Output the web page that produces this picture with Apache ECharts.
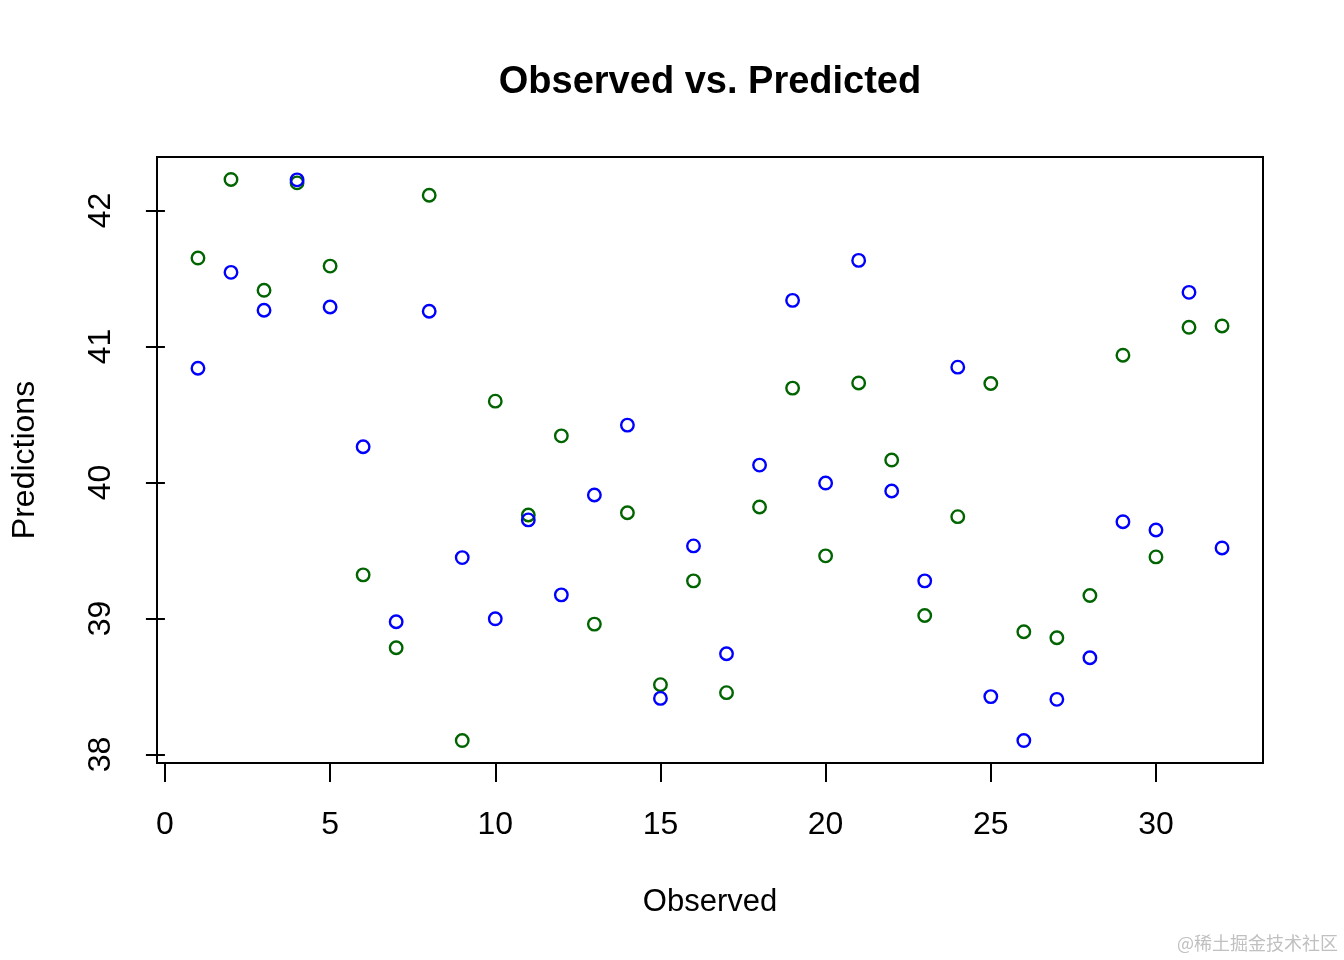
<!DOCTYPE html>
<html>
<head>
<meta charset="utf-8">
<script src="https://cdn.jsdelivr.net/npm/echarts@6/dist/echarts.min.js"></script>
<style>
  html, body { margin: 0; padding: 0; background: #ffffff; }
  #chart { width: 1344px; height: 960px; }
</style>
</head>
<body>
<div id="chart"></div>
<script>
// ---- data ----
var observed = [1,2,3,4,5,6,7,8,9,10,11,12,13,14,15,16,17,18,19,20,21,22,23,24,25,26,27,28,29,30,31,32];
var predBlue = [40.840, 41.545, 41.266, 42.225, 41.290, 40.263, 38.976, 41.259, 39.448, 38.998,
                39.725, 39.174, 39.908, 40.422, 38.413, 39.534, 38.741, 40.128, 41.339, 39.996,
                41.633, 39.938, 39.277, 40.848, 38.426, 38.103, 38.406, 38.712, 39.712, 39.651,
                41.398, 39.519];
var predGreen = [41.650, 42.228, 41.413, 42.203, 41.591, 39.321, 38.785, 42.112, 38.103, 40.598,
                 39.761, 40.343, 38.959, 39.778, 38.514, 39.277, 38.455, 39.820, 40.694, 39.461,
                 40.732, 40.165, 39.022, 39.749, 40.728, 38.903, 38.859, 39.169, 40.936, 39.453,
                 41.141, 41.151];
var xTicks = [0, 5, 10, 15, 20, 25, 30];
var yTicks = [38, 39, 40, 41, 42];
var titleText = 'Observed vs. Predicted';
var xLabel = 'Observed';
var yLabel = 'Predictions';

// R-style 4% range extension
function ext(arr) {
  var mn = Math.min.apply(null, arr), mx = Math.max.apply(null, arr);
  var d = (mx - mn) * 0.04;
  return [mn - d, mx + d];
}
var xr = ext(observed);
var yr = ext(predBlue.concat(predGreen));

function pairs(ys) { return observed.map(function (x, i) { return [x, ys[i]]; }); }

var FONT = 'Liberation Sans, Arial, Helvetica, sans-serif';
var chart = echarts.init(document.getElementById('chart'), null, { renderer: 'canvas' });

chart.setOption({
  animation: false,
  backgroundColor: '#ffffff',
  title: {
    text: titleText,
    left: 705,
    textAlign: 'center',
    top: 59,
    textStyle: { fontFamily: FONT, fontSize: 38, fontWeight: 'bold', color: '#000' }
  },
  grid: {
    left: 157, right: 81, top: 157, bottom: 197,
    show: true, borderColor: '#000', borderWidth: 2, backgroundColor: 'transparent'
  },
  xAxis: {
    type: 'value',
    min: xr[0], max: xr[1],
    name: xLabel,
    nameLocation: 'middle',
    nameGap: 124,
    nameTextStyle: { fontFamily: FONT, fontSize: 31, color: '#000' },
    axisLine: { show: false },
    splitLine: { show: false },
    axisTick: { show: true, inside: false, length: 19, customValues: xTicks,
                lineStyle: { color: '#000', width: 2 } },
    axisLabel: { show: true, customValues: xTicks, margin: 46,
                 fontFamily: FONT, fontSize: 32, color: '#000' }
  },
  yAxis: {
    type: 'value',
    min: yr[0], max: yr[1],
    name: yLabel,
    nameLocation: 'middle',
    nameGap: 116,
    nameRotate: 90,
    nameTextStyle: { fontFamily: FONT, fontSize: 32, color: '#000' },
    axisLine: { show: false },
    splitLine: { show: false },
    axisTick: { show: true, inside: false, length: 19, customValues: yTicks,
                lineStyle: { color: '#000', width: 2 } },
    axisLabel: { show: true, customValues: yTicks, rotate: 90, margin: 40,
                 fontFamily: FONT, fontSize: 32, color: '#000' }
  },
  series: [
    {
      type: 'scatter',
      data: pairs(predGreen),
      symbol: 'circle',
      symbolSize: 12.5,
      itemStyle: { color: 'rgba(0,0,0,0)', borderColor: '#006400', borderWidth: 2.4, opacity: 1 },
      z: 2
    },
    {
      type: 'scatter',
      data: pairs(predBlue),
      symbol: 'circle',
      symbolSize: 12.5,
      itemStyle: { color: 'rgba(0,0,0,0)', borderColor: '#0000ff', borderWidth: 2.4, opacity: 1 },
      z: 3
    }
  ],
  graphic: [
    {
      type: 'text',
      right: 6,
      bottom: 8,
      style: {
        text: '@稀土掘金技术社区',
        fontFamily: 'Noto Sans CJK SC, sans-serif',
        fontSize: 18,
        fill: '#c0c0c0'
      }
    }
  ]
});
</script>
</body>
</html>
